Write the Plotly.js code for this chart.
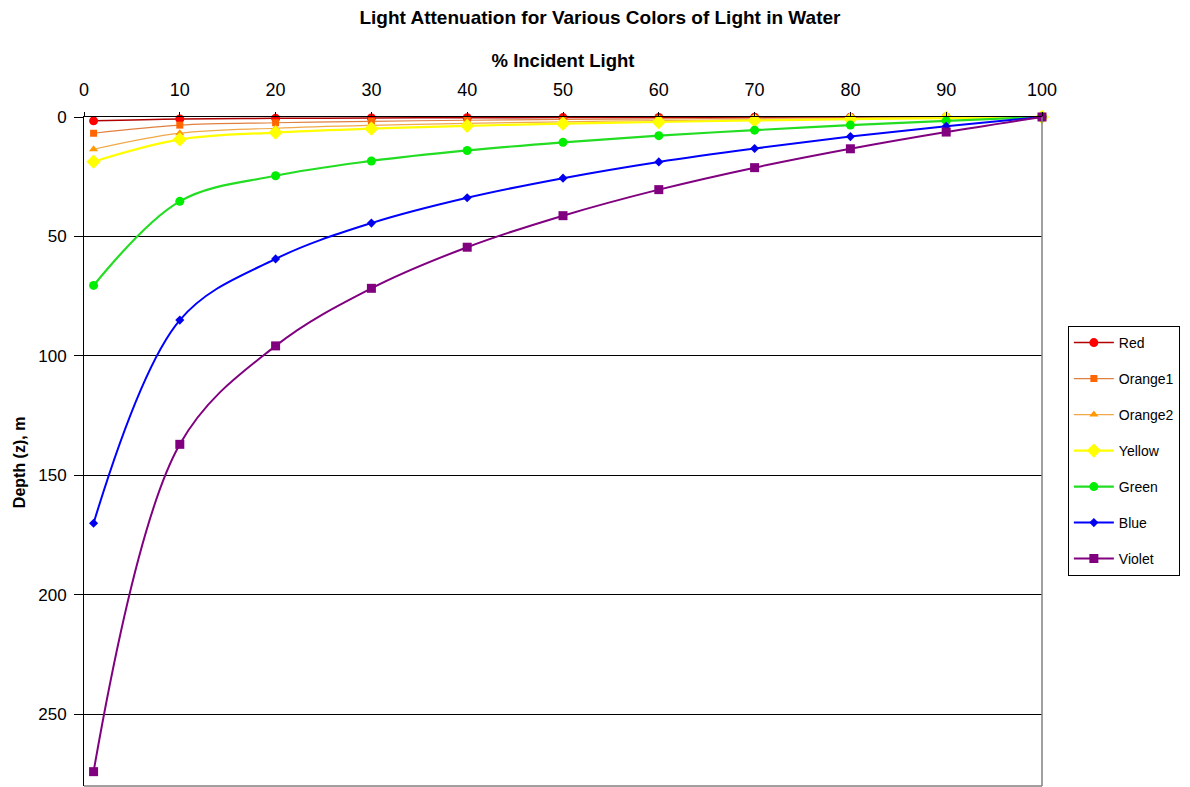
<!DOCTYPE html>
<html>
<head>
<meta charset="utf-8">
<script src="https://cdn.plot.ly/plotly-3.0.1.min.js"></script>
<style>html,body{margin:0;padding:0;background:#fff;}#chart{width:1190px;height:787px;}</style>
</head>
<body>
<div id="chart"></div>
<script>
var percentLight = [1, 10, 20, 30, 40, 50, 60, 70, 80, 90, 100];
var seriesNames = ["Red", "Orange1", "Orange2", "Yellow", "Green", "Blue", "Violet"];
var redDepth     = [1.6, 0.8, 0.56, 0.42, 0.32, 0.24, 0.18, 0.12, 0.08, 0.04, 0];
var orange1Depth = [6.8, 3.4, 2.4, 1.8, 1.35, 1.0, 0.75, 0.53, 0.33, 0.16, 0];
var orange2Depth = [13.5, 6.75, 4.7, 3.5, 2.7, 2.0, 1.5, 1.05, 0.65, 0.31, 0];
var yellowDepth  = [18.7, 9.4, 6.5, 4.9, 3.7, 2.8, 2.1, 1.45, 0.9, 0.43, 0];
var greenDepth   = [70.5, 35.3, 24.6, 18.4, 14.0, 10.6, 7.8, 5.5, 3.4, 1.6, 0];
var blueDepth    = [170, 85, 59.4, 44.4, 33.8, 25.6, 18.8, 13.2, 8.2, 3.9, 0];
var violetDepth  = [274, 137, 95.8, 71.7, 54.5, 41.3, 30.4, 21.2, 13.3, 6.3, 0];

var yTicks = [0, 50, 100, 150, 200, 250];
var xTicks = [0, 10, 20, 30, 40, 50, 60, 70, 80, 90, 100];

var depths = [redDepth, orange1Depth, orange2Depth, yellowDepth, greenDepth, blueDepth, violetDepth];
var styles = [
  {line: "#B00000", lw: 1.5, mc: "#FF0000", sym: "circle", ms: 9},
  {line: "#E08040", lw: 1.2, mc: "#FF6600", sym: "square", ms: 7},
  {line: "#F0A848", lw: 1.2, mc: "#FF9900", sym: "triangle-up", ms: 8},
  {line: "#FFFF00", lw: 2.2, mc: "#FFFF00", sym: "diamond", ms: 11},
  {line: "#22DD22", lw: 2.2, mc: "#00EE00", sym: "circle", ms: 9},
  {line: "#0000FF", lw: 2, mc: "#0000EE", sym: "diamond", ms: 7},
  {line: "#800080", lw: 2, mc: "#800080", sym: "square", ms: 9}
];

var traces = seriesNames.map(function (n, i) {
  var s = styles[i];
  return {
    x: percentLight, y: depths[i], name: n, type: "scatter", mode: "lines+markers",
    legendgroup: n,
    line: {color: s.line, width: s.lw, shape: "spline", smoothing: 1},
    marker: {color: s.mc, symbol: s.sym, size: s.ms, line: {width: 0}},
    cliponaxis: false
  };
});

var font = "Liberation Sans, Arial, sans-serif";
var layout = {
  width: 1190, height: 787,
  margin: {l: 84, r: 148, t: 117, b: 1, pad: 0},
  paper_bgcolor: "#fff", plot_bgcolor: "#fff",
  font: {family: font, size: 15, color: "#000"},
  title: {text: "<b>Light Attenuation for Various Colors of Light in Water</b>", x: 0.5386, xref: "paper", xanchor: "center", y: 0.978, yanchor: "middle", font: {family: font, size: 19, color: "#000"}},
  xaxis: {
    side: "top", range: [0, 100], tickvals: xTicks, ticktext: xTicks.map(String),
    showgrid: false, zeroline: false, showline: true, linecolor: "#000", linewidth: 1,
    ticks: "outside", ticklen: 4, tickcolor: "#000", ticklabelstandoff: 9,
    tickfont: {family: font, size: 18, color: "#000"},
    title: {text: "<b>% Incident Light</b>", font: {family: font, size: 18.5, color: "#000"}, standoff: 7}
  },
  yaxis: {
    range: [280, 0], tickvals: yTicks, ticktext: yTicks.map(String),
    showgrid: true, gridcolor: "#000", gridwidth: 1, zeroline: false,
    showline: true, linecolor: "#000", linewidth: 1,
    ticks: "outside", ticklen: 9, tickcolor: "#000", ticklabelstandoff: 4,
    tickfont: {family: font, size: 17, color: "#000"}
  },
  annotations: [
    {text: "<b>Depth (z), m</b>", xref: "paper", yref: "paper", x: -0.0679, y: 0.484,
     xanchor: "center", yanchor: "middle", textangle: -90, showarrow: false,
     font: {family: font, size: 16, color: "#000"}}
  ],
  legend: {
    x: 1.027, y: 0.6876, xanchor: "left", yanchor: "top",
    bgcolor: "#fff", bordercolor: "#000", borderwidth: 1,
    font: {family: font, size: 14, color: "#000"},
    traceorder: "grouped", tracegroupgap: 14.8, itemwidth: 40
  },
  shapes: [
    {type: "line", xref: "paper", yref: "paper", x0: 1, x1: 1, y0: 0, y1: 1, line: {color: "#808080", width: 1.5}},
    {type: "line", xref: "paper", yref: "paper", x0: 0, x1: 1, y0: 0, y1: 0, line: {color: "#808080", width: 1.5}}
  ],
  showlegend: true
};

Plotly.newPlot("chart", traces, layout, {displayModeBar: false, staticPlot: true});
</script>
</body>
</html>
